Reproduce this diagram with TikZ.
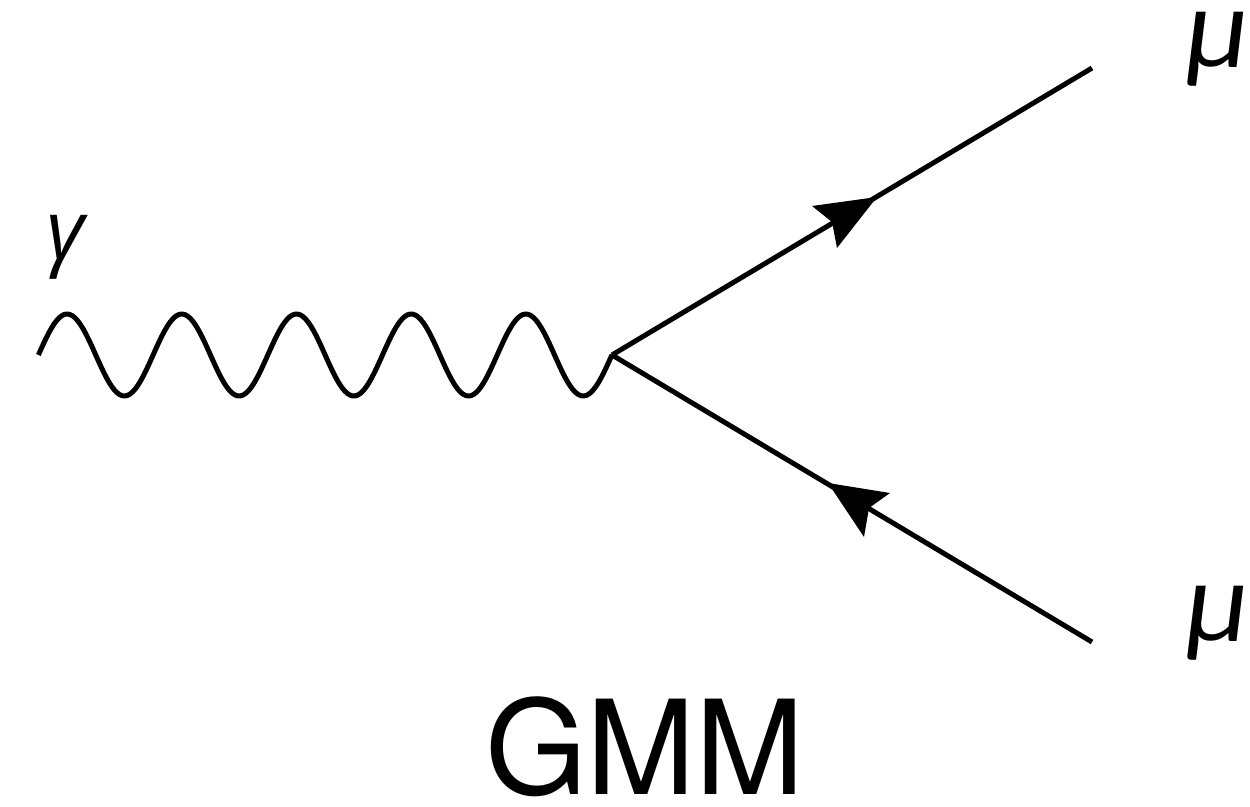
\documentclass[tikz,border=0pt]{standalone}
\usepackage{fontspec}
\setmainfont{TeX Gyre Heros}
\newfontfamily\greekfont{Carlito}
\newfontfamily\gammafont{Open Sans}
\tikzset{
  fermion/.style={line width=0.1cm,line cap=butt,black},
  photon/.style={line width=0.1cm,black,line join=round},
  arrowhead/.style={fill=black,draw=none},
  particle/.style={inner sep=0pt,font=\greekfont\itshape\fontsize{66}{66}\selectfont,text=black},
  photonlabel/.style={inner sep=0pt,font=\gammafont\itshape\fontsize{47}{47}\selectfont,text=black},
  caption/.style={inner sep=0pt,font=\fontsize{74.5}{74.5}\selectfont,text=black}
}
\begin{document}
\begin{tikzpicture}[x=0.02cm,y=-0.02cm]
\useasboundingbox (0,0) rectangle (1250,807);
\coordinate (vertex) at (612,355);
\coordinate (muout) at (1092,68);
\coordinate (muin) at (1092,642);
\draw[fermion] (vertex) -- (muout);
\draw[fermion] (vertex) -- (muin);
\draw[photon] plot[domain=38.4:612,samples=220,variable=\t] (\t,{355-41*sin((\t-38.4)/114.7*360)});
\fill[arrowhead] (877,197) -- (812,206) -- (832,222) -- (837,248) -- cycle;
\fill[arrowhead] (828,483) -- (890,493) -- (869,508) -- (864,537) -- cycle;
\node[photonlabel] (gamma) at (65,247) {γ};
\node[particle] (mu1) at (1218,49) {μ};
\node[particle] (mu2) at (1218,623) {μ};
\node[caption] (title) at (645,747) {GMM};
\end{tikzpicture}
\end{document}
